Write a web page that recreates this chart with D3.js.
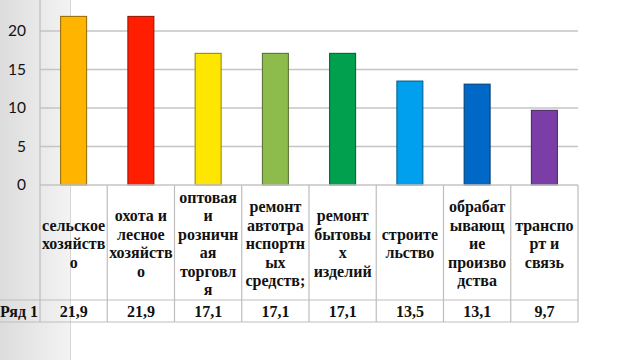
<!DOCTYPE html>
<html><head><meta charset="utf-8">
<script src="https://cdn.jsdelivr.net/npm/d3@7"></script>
<style>html,body{margin:0;padding:0;background:#fff;}svg{display:block;}</style>
</head><body>
<script>
const categories = [
  ["сельское","хозяйств","о"],
  ["охота и","лесное","хозяйств","о"],
  ["оптовая","и","розничн","ая","торговл","я"],
  ["ремонт","автотра","нспортн","ых","средств;"],
  ["ремонт","бытовы","х","изделий"],
  ["строите","льство"],
  ["обрабат","ывающ","ие","произво","дства"],
  ["транспо","рт и","связь"]
];
const values = [21.9, 21.9, 17.1, 17.1, 17.1, 13.5, 13.1, 9.7];
const valueLabels = ["21,9","21,9","17,1","17,1","17,1","13,5","13,1","9,7"];
const colors = ["#FFB400","#FF1E00","#FFE600","#8DBB4C","#00A04F","#00A0EE","#0068C6","#7A3EA6"];
const yTicks = [0, 5, 10, 15, 20];
const seriesName = "Ряд 1";

const W = 640, H = 360;
const svg = d3.select("body").append("svg").attr("width", W).attr("height", H);

const defs = svg.append("defs");
const g = defs.append("linearGradient").attr("id","lg").attr("x1","0").attr("x2","1");
g.append("stop").attr("offset","0").attr("stop-color","#dcdcdc");
g.append("stop").attr("offset","1").attr("stop-color","#f3f3f3");
svg.append("rect").attr("x",0).attr("y",0).attr("width",70).attr("height",H).attr("fill","url(#lg)");
svg.append("line").attr("x1",70.5).attr("x2",70.5).attr("y1",0).attr("y2",H).attr("stroke","#d6d6d6");

const left = 40, right = 578, y0 = 185;
const x = d3.scaleBand().domain(d3.range(values.length)).range([left, right]).paddingInner(0).paddingOuter(0);
const y = d3.scaleLinear().domain([0, 20]).range([y0, 31]);

// gridlines
svg.append("g").selectAll("line").data(yTicks.filter(t => t > 0)).join("line")
  .attr("x1", left).attr("x2", right)
  .attr("y1", d => y(d)).attr("y2", d => y(d))
  .attr("stroke", "#c4c4c4").attr("stroke-width", 1.5);

// y axis labels
const yAxis = d3.axisLeft(y).tickValues(yTicks).tickSize(0).tickPadding(14);
const ya = svg.append("g").attr("transform", `translate(${left},0)`).call(yAxis);
ya.select(".domain").remove();
ya.selectAll("text").attr("font-family","Lato, 'Open Sans', sans-serif").attr("font-size", 15.5).attr("fill","#111");

// bars
const bw = 26;
svg.append("g").selectAll("rect").data(values).join("rect")
  .attr("x", (d,i) => x(i) + x.bandwidth()/2 - bw/2)
  .attr("y", d => y(d))
  .attr("width", bw)
  .attr("height", d => y0 - y(d))
  .attr("fill", (d,i) => colors[i])
  .attr("stroke", (d,i) => d3.color(colors[i]).darker(1.6))
  .attr("stroke-width", 1);

// table
const rowTop = 185, rowMid = 300, rowBot = 322;
const tbl = svg.append("g").attr("stroke","#bdbdbd").attr("stroke-width",1.2);
tbl.append("line").attr("x1",left).attr("x2",right).attr("y1",rowTop).attr("y2",rowTop).attr("stroke","#c4c4c4").attr("stroke-width",1.5);
tbl.append("line").attr("x1",0).attr("x2",right).attr("y1",rowMid).attr("y2",rowMid);
tbl.append("line").attr("x1",0).attr("x2",right).attr("y1",rowBot).attr("y2",rowBot);
const bounds = d3.range(values.length + 1).map(i => i < values.length ? x(i) : right);
tbl.selectAll("line.v").data(bounds).join("line").attr("class","v")
  .attr("x1", d => d).attr("x2", d => d).attr("y2", rowBot)
  .attr("y1", (d,i) => i === 0 ? 0 : rowTop);

// category labels
const lh = 18.5;
const catG = svg.append("g").attr("font-family","'Liberation Serif','Times New Roman',serif")
  .attr("font-weight","bold").attr("font-size",16).attr("fill","#111").attr("text-anchor","middle");
categories.forEach((lines, i) => {
  const cx = x(i) + x.bandwidth()/2;
  const cy = (rowTop + rowMid)/2 + 1;
  const startY = cy - (lines.length - 1) * lh / 2;
  const t = catG.append("text").attr("x", cx);
  lines.forEach((ln, j) => {
    t.append("tspan").attr("x", cx).attr("y", startY + j*lh).attr("dy","0.35em").text(ln);
  });
});

// values row
const valG = svg.append("g").attr("font-family","'Liberation Serif','Times New Roman',serif")
  .attr("font-weight","bold").attr("font-size",16).attr("fill","#111").attr("text-anchor","middle");
valG.selectAll("text").data(valueLabels).join("text")
  .attr("x", (d,i) => x(i) + x.bandwidth()/2)
  .attr("y", (rowMid + rowBot)/2).attr("dy","0.35em").text(d => d);
valG.append("text").attr("x", 19).attr("y", (rowMid + rowBot)/2).attr("dy","0.35em").text(seriesName);
</script>
</body></html>
